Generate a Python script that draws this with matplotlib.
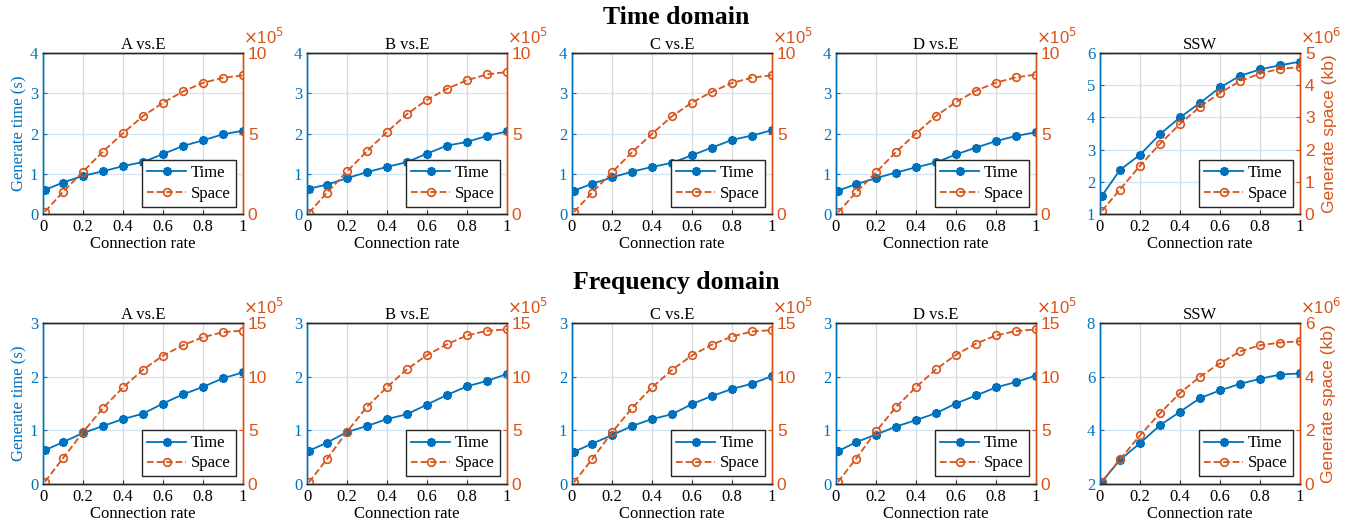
import matplotlib
matplotlib.use("Agg")
import matplotlib.pyplot as plt

# connection rate (first sample sits just right of zero)
RATE = [0.01, 0.1, 0.2, 0.3, 0.4, 0.5, 0.6, 0.7, 0.8, 0.9, 1.0]
PANELS = ["A vs.E", "B vs.E", "C vs.E", "D vs.E", "SSW"]

# time domain: generate time (s)
TIME_TD = [
    [0.60, 0.78, 0.95, 1.06, 1.19, 1.29, 1.49, 1.69, 1.83, 1.98, 2.07],
    [0.63, 0.73, 0.89, 1.04, 1.17, 1.29, 1.50, 1.70, 1.79, 1.94, 2.05],
    [0.58, 0.75, 0.91, 1.05, 1.17, 1.27, 1.46, 1.65, 1.84, 1.95, 2.08],
    [0.58, 0.74, 0.89, 1.03, 1.16, 1.28, 1.48, 1.65, 1.81, 1.94, 2.03],
    [1.57, 2.37, 2.84, 3.48, 4.00, 4.45, 4.93, 5.29, 5.49, 5.62, 5.73],
]
# time domain: generate space, in units of 10^EXP
SPACE_TD = [
    [0.15, 1.37, 2.63, 3.88, 5.02, 6.08, 6.91, 7.61, 8.15, 8.46, 8.61],
    [0.08, 1.33, 2.64, 3.90, 5.10, 6.20, 7.09, 7.78, 8.31, 8.67, 8.82],
    [0.13, 1.32, 2.59, 3.83, 4.98, 6.07, 6.92, 7.59, 8.14, 8.47, 8.62],
    [0.10, 1.34, 2.59, 3.85, 5.00, 6.09, 6.95, 7.66, 8.16, 8.49, 8.66],
    [0.10, 0.76, 1.50, 2.18, 2.80, 3.33, 3.76, 4.13, 4.36, 4.51, 4.56],
]
# frequency domain
TIME_FD = [
    [0.63, 0.78, 0.95, 1.08, 1.21, 1.31, 1.50, 1.67, 1.81, 1.97, 2.08],
    [0.62, 0.77, 0.97, 1.08, 1.21, 1.30, 1.48, 1.66, 1.82, 1.92, 2.05],
    [0.60, 0.75, 0.91, 1.08, 1.21, 1.30, 1.49, 1.64, 1.77, 1.87, 2.01],
    [0.61, 0.78, 0.92, 1.07, 1.19, 1.32, 1.50, 1.65, 1.80, 1.90, 2.02],
    [2.09, 2.90, 3.52, 4.19, 4.69, 5.20, 5.49, 5.73, 5.92, 6.08, 6.12],
]
SPACE_FD = [
    [0.22, 2.40, 4.83, 7.07, 9.00, 10.65, 11.96, 12.93, 13.68, 14.14, 14.30],
    [0.16, 2.33, 4.87, 7.20, 9.03, 10.69, 12.01, 13.02, 13.84, 14.28, 14.40],
    [0.16, 2.30, 4.81, 7.08, 9.00, 10.63, 11.98, 12.99, 13.74, 14.21, 14.34],
    [0.19, 2.36, 4.90, 7.17, 9.02, 10.69, 12.04, 13.08, 13.84, 14.25, 14.40],
    [0.09, 0.92, 1.81, 2.64, 3.39, 4.00, 4.50, 4.94, 5.17, 5.27, 5.32],
]

# axis ranges per row: (time limits, time ticks, space limits, space ticks, exponent)
ROWS = [
    {
        "title": "Time domain", "time": TIME_TD, "space": SPACE_TD,
        "tlim": [(0, 4)] * 4 + [(1, 6)],
        "tticks": [[0, 1, 2, 3, 4]] * 4 + [[1, 2, 3, 4, 5, 6]],
        "slim": [(0, 10)] * 4 + [(0, 5)],
        "sticks": [[0, 5, 10]] * 4 + [[0, 1, 2, 3, 4, 5]],
        "exp": [5, 5, 5, 5, 6],
    },
    {
        "title": "Frequency domain", "time": TIME_FD, "space": SPACE_FD,
        "tlim": [(0, 3)] * 4 + [(2, 8)],
        "tticks": [[0, 1, 2, 3]] * 4 + [[2, 4, 6, 8]],
        "slim": [(0, 15)] * 4 + [(0, 6)],
        "sticks": [[0, 5, 10, 15]] * 4 + [[0, 2, 4, 6]],
        "exp": [5, 5, 5, 5, 6],
    },
]

BLUE, ORANGE = "#0072BD", "#D95319"
SERIF, SANS = "Liberation Serif", "Liberation Sans"
W, H = 1353, 529
LEFTS = [43, 307, 572, 836, 1100]
AX_W = 200
TOPS = [53, 323]
AX_H = 161
SUPY = [17, 283]
ASTERISK = (8, 2, 0)   # matlab-style '*' marker

fig = plt.figure(figsize=(W / 100, H / 100), dpi=100)

for r, row in enumerate(ROWS):
    fig.text(0.5, 1 - SUPY[r] / H, row["title"], ha="center", va="center",
             fontsize=18.5, fontweight="bold", family=SERIF)
    for c, name in enumerate(PANELS):
        ax = fig.add_axes([LEFTS[c] / W, 1 - (TOPS[r] + AX_H) / H, AX_W / W, AX_H / H])
        ax2 = ax.twinx()

        lt, = ax.plot(RATE, row["time"][c], "-", marker=ASTERISK, color=BLUE,
                      lw=1.3, ms=6.5, mew=1.6, label="Time")
        ls, = ax2.plot(RATE, row["space"][c], "--o", color=ORANGE, lw=1.3, ms=5.5,
                       mfc="none", mew=1.2, label="Space")

        ax.set_xlim(0, 1)
        ax.set_xticks([0, 0.2, 0.4, 0.6, 0.8, 1])
        ax.set_xticklabels(["0", "0.2", "0.4", "0.6", "0.8", "1"])
        ax.set_ylim(*row["tlim"][c])
        ax.set_yticks(row["tticks"][c])
        ax2.set_ylim(*row["slim"][c])
        ax2.set_yticks(row["sticks"][c])

        ax.xaxis.grid(True, color="#d9d9d9", lw=0.9)
        ax.yaxis.grid(True, color="#cfe4f4", lw=0.9)
        ax.set_axisbelow(True)

        ax.tick_params(axis="x", direction="in", length=3, labelsize=12,
                       color="#262626", top=False)
        ax.tick_params(axis="y", direction="in", length=3, labelsize=12,
                       color=BLUE, labelcolor=BLUE)
        ax2.tick_params(axis="y", direction="in", length=3, labelsize=12.5,
                        color=ORANGE, labelcolor=ORANGE)
        for lab in ax.get_xticklabels() + ax.get_yticklabels():
            lab.set_family(SERIF)
        for lab in ax2.get_yticklabels():
            lab.set_family(SANS)

        for a in (ax, ax2):
            a.spines["top"].set_color("#262626")
            a.spines["bottom"].set_color("#262626")
            a.spines["left"].set_color(BLUE)
            a.spines["right"].set_color(ORANGE)
            for s in a.spines.values():
                s.set_linewidth(1.0)

        ax.set_title(name, fontsize=12, family=SERIF, pad=1)
        ax.set_xlabel("Connection rate", fontsize=12, family=SERIF, labelpad=1)
        if c == 0:
            ax.set_ylabel("Generate time (s)", fontsize=12, family=SERIF,
                          color=BLUE, labelpad=2)
        if c == 4:
            ax2.set_ylabel("Generate space (kb)", fontsize=12.5, family=SANS,
                           color=ORANGE, labelpad=5)

        ax2.text(1.0, 1 + 6.5 / AX_H, r"$\times$10$^{%d}$" % row["exp"][c],
                 transform=ax2.transAxes, ha="left", va="bottom",
                 fontsize=12, color=ORANGE, family=SANS)

        leg = ax2.legend([lt, ls], ["Time", "Space"], loc="lower right",
                         prop={"family": SERIF, "size": 12}, frameon=True,
                         fancybox=False, edgecolor="#262626", framealpha=1,
                         borderpad=0.3, labelspacing=0.25, handlelength=2.3,
                         handletextpad=0.3, borderaxespad=0.45)
        leg.get_frame().set_linewidth(1.0)

fig.savefig("out.png", dpi=100)
